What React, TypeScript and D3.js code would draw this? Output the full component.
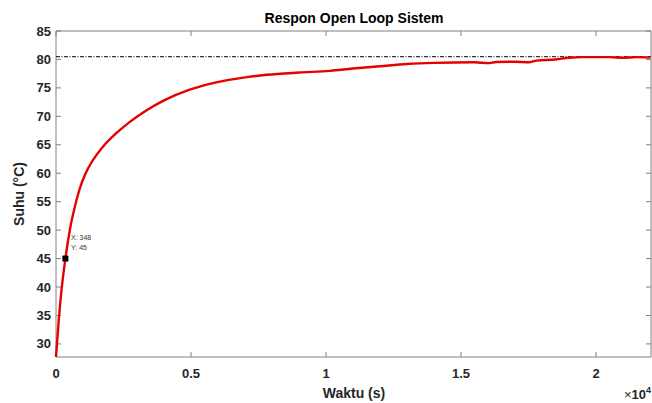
import * as d3 from 'd3';

// time (s) and temperature (°C)
const waktu = [0, 100, 200, 348, 518, 740, 900, 1100, 1300, 1500, 1800, 2200, 2700, 3300, 4000, 4900, 5700, 6400, 7070, 7800, 9000, 10150, 11000, 12000, 13000, 14000, 15500, 16000, 16300, 17000, 17500, 17800, 18500, 19000, 19500, 20500, 21000, 21500, 22000];
const suhu = [27.7, 34.1, 39.3, 45, 50.2, 54.9, 57.6, 60, 61.8, 63.2, 65, 66.9, 68.9, 70.9, 72.8, 74.6, 75.7, 76.4, 76.9, 77.3, 77.7, 78.0, 78.4, 78.8, 79.2, 79.4, 79.5, 79.35, 79.55, 79.6, 79.5, 79.8, 80, 80.3, 80.4, 80.4, 80.3, 80.4, 80.35];
const setpoint = 80.48;
const xTicks = [0, 5000, 10000, 15000, 20000];
const xTickLabels = ['0', '0.5', '1', '1.5', '2'];
const yTicks = [30, 35, 40, 45, 50, 55, 60, 65, 70, 75, 80, 85];
const tip = { x: 348, y: 45 };

const W = 652;
const H = 403;
const left = 56;
const right = 651;
const top = 31;
const bottom = 357;
const font = 'Arial, "Liberation Sans", Helvetica, sans-serif';
const axisColor = '#808080';
const textColor = '#262626';

const App = () => {
  const x = d3.scaleLinear().domain([0, 22000]).range([left, 650]);
  const y = d3.scaleLinear().domain([27.7, 85]).range([bottom, top]);

  const pts: [number, number][] = waktu.map((t, i) => [t, suhu[i]]);
  const line = d3
    .line<[number, number]>()
    .x((d) => x(d[0]))
    .y((d) => y(d[1]))
    .curve(d3.curveMonotoneX);

  return (
    <svg width={W} height={H} style={{ position: 'absolute', left: 0, top: 0, background: '#fff' }}>
      <rect x={0} y={0} width={W} height={H} fill='#fff' />

      {/* plot box */}
      <line x1={left} x2={right} y1={top} y2={top} stroke={axisColor} strokeWidth={1} />
      <line x1={left} x2={right} y1={bottom} y2={bottom} stroke={axisColor} strokeWidth={1} />
      <line x1={left} x2={left} y1={top} y2={bottom} stroke={axisColor} strokeWidth={1} />
      <line x1={right} x2={right} y1={top} y2={bottom} stroke={axisColor} strokeWidth={1} />

      {/* x ticks */}
      {xTicks.map((t, i) => (
        <g key={'x' + t}>
          <line x1={x(t)} x2={x(t)} y1={bottom} y2={bottom - 5} stroke={axisColor} />
          <line x1={x(t)} x2={x(t)} y1={top} y2={top + 5} stroke={axisColor} />
          <text
            x={x(t)}
            y={378}
            textAnchor='middle'
            fontFamily={font}
            fontWeight='bold'
            fontSize={13}
            fill={textColor}
          >
            {xTickLabels[i]}
          </text>
        </g>
      ))}

      {/* y ticks */}
      {yTicks.map((v) => (
        <g key={'y' + v}>
          <line x1={left} x2={left + 5} y1={y(v)} y2={y(v)} stroke={axisColor} />
          <line x1={right} x2={right - 5} y1={y(v)} y2={y(v)} stroke={axisColor} />
          <text
            x={51}
            y={y(v) + 4.5}
            textAnchor='end'
            fontFamily={font}
            fontWeight='bold'
            fontSize={13}
            fill={textColor}
          >
            {v}
          </text>
        </g>
      ))}

      {/* setpoint reference */}
      <line
        x1={left}
        x2={right}
        y1={y(setpoint)}
        y2={y(setpoint)}
        stroke='#000'
        strokeWidth={1}
        strokeDasharray='4,1.5,1,1.5'
      />

      {/* response */}
      <path d={line(pts) || ''} fill='none' stroke='#e60000' strokeWidth={2.4} />

      {/* data tip */}
      <rect x={x(tip.x) - 3} y={y(tip.y) - 3} width={6} height={6} fill='#000' />
      <text x={71} y={240} fontFamily={font} fontSize={7} fill='#3a3a1a'>
        X: {tip.x}
      </text>
      <text x={71} y={250} fontFamily={font} fontSize={7} fill='#3a3a1a'>
        Y: {tip.y}
      </text>

      {/* titles */}
      <text x={354} y={23} textAnchor='middle' fontFamily={font} fontWeight='bold' fontSize={14} fill='#000'>
        Respon Open Loop Sistem
      </text>
      <text x={354} y={398} textAnchor='middle' fontFamily={font} fontWeight='bold' fontSize={14} fill={textColor}>
        Waktu (s)
      </text>
      <text
        transform={`translate(24, ${(top + bottom) / 2}) rotate(-90)`}
        textAnchor='middle'
        fontFamily={font}
        fontWeight='bold'
        fontSize={14}
        fill={textColor}
      >
        Suhu (°C)
      </text>
      <text x={624} y={399} fontFamily={font} fontSize={13} fill={textColor}>
        ×
        <tspan fontWeight='bold'>10</tspan>
        <tspan fontWeight='bold' fontSize={9} dy={-6}>4</tspan>
      </text>
    </svg>
  );
};

export default App;
